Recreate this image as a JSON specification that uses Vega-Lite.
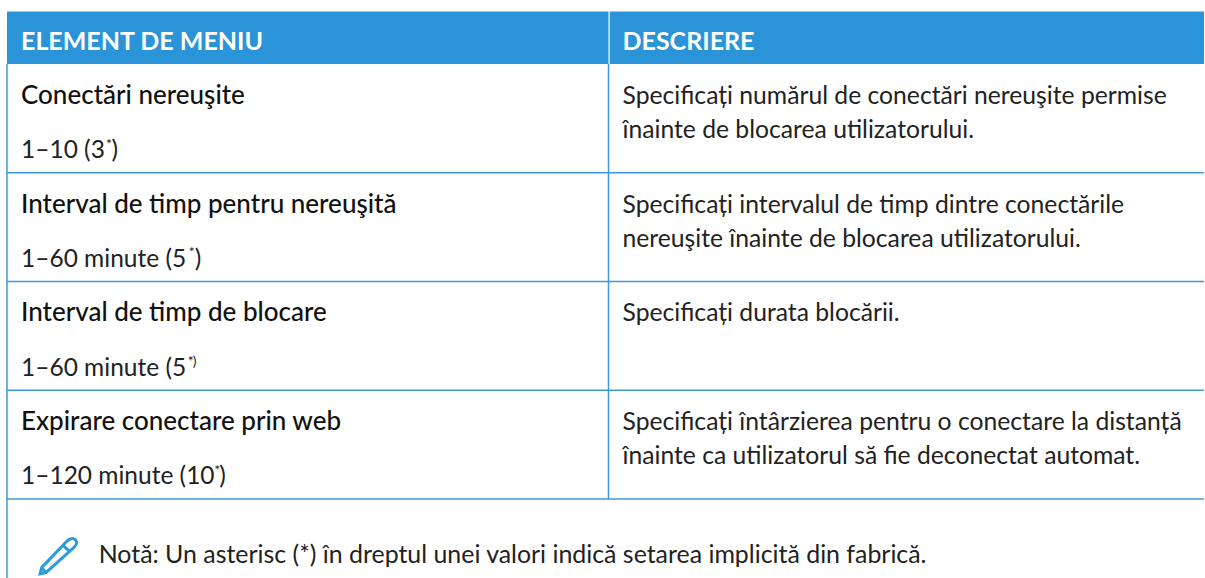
{"$schema":"https://vega.github.io/schema/vega-lite/v6.json","width":1205,"height":578,"autosize":{"type":"fit","contains":"padding"},"padding":0,"background":"white","view":{"stroke":null},
"encoding":{"x":{"field":"c","type":"quantitative","scale":{"domain":[-0.01163,1.99],"nice":false,"zero":false},"axis":null},"y":{"field":"r","type":"quantitative","scale":{"domain":[-0.5885,4.7264],"range":[0,578],"nice":false,"zero":false},"axis":null}},
"layer":[
{"data":{"values":[{"c":0,"c2":1,"r":-0.4828,"r2":0},{"c":1.002,"c2":1.99,"r":-0.4828,"r2":0}]},"mark":{"type":"rect","color":"#2B93D7"},"encoding":{"x2":{"field":"c2"},"y2":{"field":"r2"}}},
{"data":{"values":[{"c":0,"c2":1.99,"r":1},{"c":0,"c2":1.99,"r":2},{"c":0,"c2":1.99,"r":3},{"c":0,"c2":1.99,"r":4}]},"mark":{"type":"rule","color":"#3A9ADC","strokeWidth":1.5},"encoding":{"x2":{"field":"c2"}}},
{"data":{"values":[{"c":0,"r":0,"r2":4.7264},{"c":1,"r":0,"r2":4}]},"mark":{"type":"rule","color":"#3A9ADC","strokeWidth":1.5},"encoding":{"y2":{"field":"r2"}}},
{"data":{"values":[{"c":0.0847,"r":4.524}]},"mark":{"type":"point","filled":false,"stroke":"#2B9BDB","strokeWidth":3,"size":1500,"opacity":1,"shape":"M-0.62,0.86 L-0.92,0.92 L-0.84,0.6 L0.42,-0.72 C0.58,-0.92 0.8,-0.95 0.92,-0.82 C1,-0.7 0.95,-0.55 0.8,-0.42 Z M0.25,-0.55 L0.62,-0.22 M-0.62,0.86 L-0.84,0.6"}},
{"data":{"values":[
{"c":0.0233,"r":-0.129,"t":"ELEMENT DE MENIU"},
{"c":1.0233,"r":-0.129,"t":"DESCRIERE"}
]},"mark":{"type":"text","align":"left","baseline":"alphabetic","font":"Lato","fontSize":25,"fontWeight":700,"color":"#FFFFFF"},"encoding":{"text":{"field":"t"}}},
{"data":{"values":[
{"c":0.0233,"r":0.367,"t":"Conectări nereuşite"},
{"c":0.0233,"r":1.367,"t":"Interval de timp pentru nereuşită"},
{"c":0.0233,"r":2.367,"t":"Interval de timp de blocare"},
{"c":0.0233,"r":3.367,"t":"Expirare conectare prin web"}
]},"mark":{"type":"text","align":"left","baseline":"alphabetic","font":"Lato","fontSize":26,"fontWeight":500,"color":"#111111"},"encoding":{"text":{"field":"t"}}},
{"data":{"values":[
{"c":0.0233,"r":0.866,"t":"1–10 (3"},
{"c":0.0233,"r":1.866,"t":"1–60 minute (5"},
{"c":0.0233,"r":2.866,"t":"1–60 minute (5"},
{"c":0.0233,"r":3.866,"t":"1–120 minute (10"},
{"c":0.1739,"r":0.866,"t":")"},
{"c":0.3123,"r":1.866,"t":")"},
{"c":0.353,"r":3.866,"t":")"}
]},"mark":{"type":"text","align":"left","baseline":"alphabetic","font":"Lato","fontSize":24.5,"color":"#222222"},"encoding":{"text":{"field":"t"}}},
{"data":{"values":[
{"c":1.0233,"r":0.367,"t":"Specificați numărul de conectări nereuşite permise"},
{"c":1.0233,"r":0.68,"t":"înainte de blocarea utilizatorului."},
{"c":1.0233,"r":1.367,"t":"Specificați intervalul de timp dintre conectările"},
{"c":1.0233,"r":1.68,"t":"nereuşite înainte de blocarea utilizatorului."},
{"c":1.0233,"r":2.367,"t":"Specificați durata blocării."},
{"c":1.0233,"r":3.367,"t":"Specificați întârzierea pentru o conectare la distanță"},
{"c":1.0233,"r":3.68,"t":"înainte ca utilizatorul să fie deconectat automat."}
]},"mark":{"type":"text","align":"left","baseline":"alphabetic","font":"Lato","fontSize":24.7,"color":"#222222"},"encoding":{"text":{"field":"t"}}},
{"data":{"values":[
{"c":0.1525,"r":4.587,"t":"Notă: Un asterisc (*) în dreptul unei valori indică setarea implicită din fabrică."}
]},"mark":{"type":"text","align":"left","baseline":"alphabetic","font":"Lato","fontSize":24.9,"color":"#222222"},"encoding":{"text":{"field":"t"}}},
{"data":{"values":[
{"c":0.1645,"r":0.778,"t":"*"},
{"c":0.3023,"r":1.778,"t":"*"},
{"c":0.3007,"r":2.778,"t":"*"},
{"c":0.309,"r":2.778,"t":")"},
{"c":0.3447,"r":3.778,"t":"*"}
]},"mark":{"type":"text","align":"left","baseline":"alphabetic","font":"Lato","fontSize":14,"color":"#222222"},"encoding":{"text":{"field":"t"}}}
]}
